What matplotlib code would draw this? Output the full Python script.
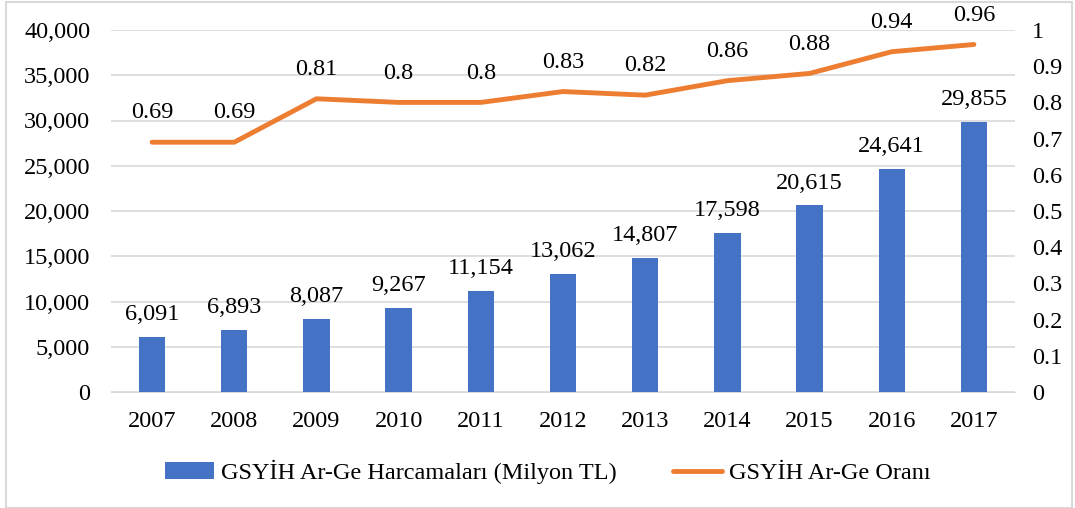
"""GSYİH Ar-Ge harcamaları ve oranı, 2007-2017."""

import matplotlib.pyplot as plt
from matplotlib.patches import Rectangle
from matplotlib.ticker import FuncFormatter, MultipleLocator

C_BAR = "#4472C4"
C_LINE = "#ED7D31"
C_GRID = "#D9D9D9"

years = ["2007", "2008", "2009", "2010", "2011", "2012",
         "2013", "2014", "2015", "2016", "2017"]
spending = [6091, 6893, 8087, 9267, 11154, 13062, 14807, 17598, 20615, 24641, 29855]
ratio = [0.69, 0.69, 0.81, 0.8, 0.8, 0.83, 0.82, 0.86, 0.88, 0.94, 0.96]
ratio_labels = ["0.69", "0.69", "0.81", "0.8", "0.8", "0.83",
                "0.82", "0.86", "0.88", "0.94", "0.96"]

plt.rcParams["font.family"] = ["Liberation Serif", "DejaVu Serif"]
FS = 17.5

fig = plt.figure(figsize=(10.75, 5.08), dpi=100)
ax = fig.add_axes([111 / 1075, 1 - 392 / 508, 904 / 1075, 362 / 508])
ax2 = ax.twinx()

x = list(range(len(years)))
ax.bar(x, spending, width=0.32, color=C_BAR, zorder=3,
       label="GSYİH Ar-Ge Harcamaları (Milyon TL)")
for xi, v in zip(x, spending):
    ax.text(xi, v + 1300, f"{v:,}", ha="center", va="bottom", fontsize=FS)

ax2.plot(x, ratio, color=C_LINE, lw=3.5, solid_capstyle="round", zorder=4,
         label="GSYİH Ar-Ge Oranı")
for xi, v, t in zip(x, ratio, ratio_labels):
    ax2.text(xi, v + 0.052, t, ha="center", va="bottom", fontsize=FS)

ax.set_xlim(-0.5, len(years) - 0.5)
ax.set_ylim(0, 40000)
ax2.set_ylim(0, 1)
ax.yaxis.set_major_locator(MultipleLocator(5000))
ax.yaxis.set_major_formatter(FuncFormatter(lambda v, p: f"{int(v):,}"))
ax2.yaxis.set_major_locator(MultipleLocator(0.1))
ax2.yaxis.set_major_formatter(FuncFormatter(
    lambda v, p: "0" if v == 0 else ("1" if abs(v - 1) < 1e-9 else f"{v:.1f}")))
ax.set_xticks(x, years)

ax.grid(axis="y", color=C_GRID, lw=1.2, zorder=0)
for a in (ax, ax2):
    for s in a.spines.values():
        s.set_visible(False)
    a.tick_params(length=0, labelsize=FS)
ax.spines["bottom"].set_visible(True)
ax.spines["bottom"].set_color(C_GRID)
ax.tick_params(axis="y", pad=15)
ax.tick_params(axis="x", pad=14)
ax2.tick_params(axis="y", pad=12)

h1, l1 = ax.get_legend_handles_labels()
h2, l2 = ax2.get_legend_handles_labels()
fig.legend(h1 + h2, l1 + l2, loc="center", bbox_to_anchor=(548 / 1075, 1 - 472 / 508),
           ncol=2, frameon=False, fontsize=FS, handlelength=2.0, handletextpad=0.3,
           columnspacing=2.3)

fig.patches.append(Rectangle((6 / 1075, 0), 1066 / 1075, 1 - 2 / 508,
                             transform=fig.transFigure, fill=False,
                             edgecolor=C_GRID, lw=1.5))
fig.savefig("out.png", dpi=100)
